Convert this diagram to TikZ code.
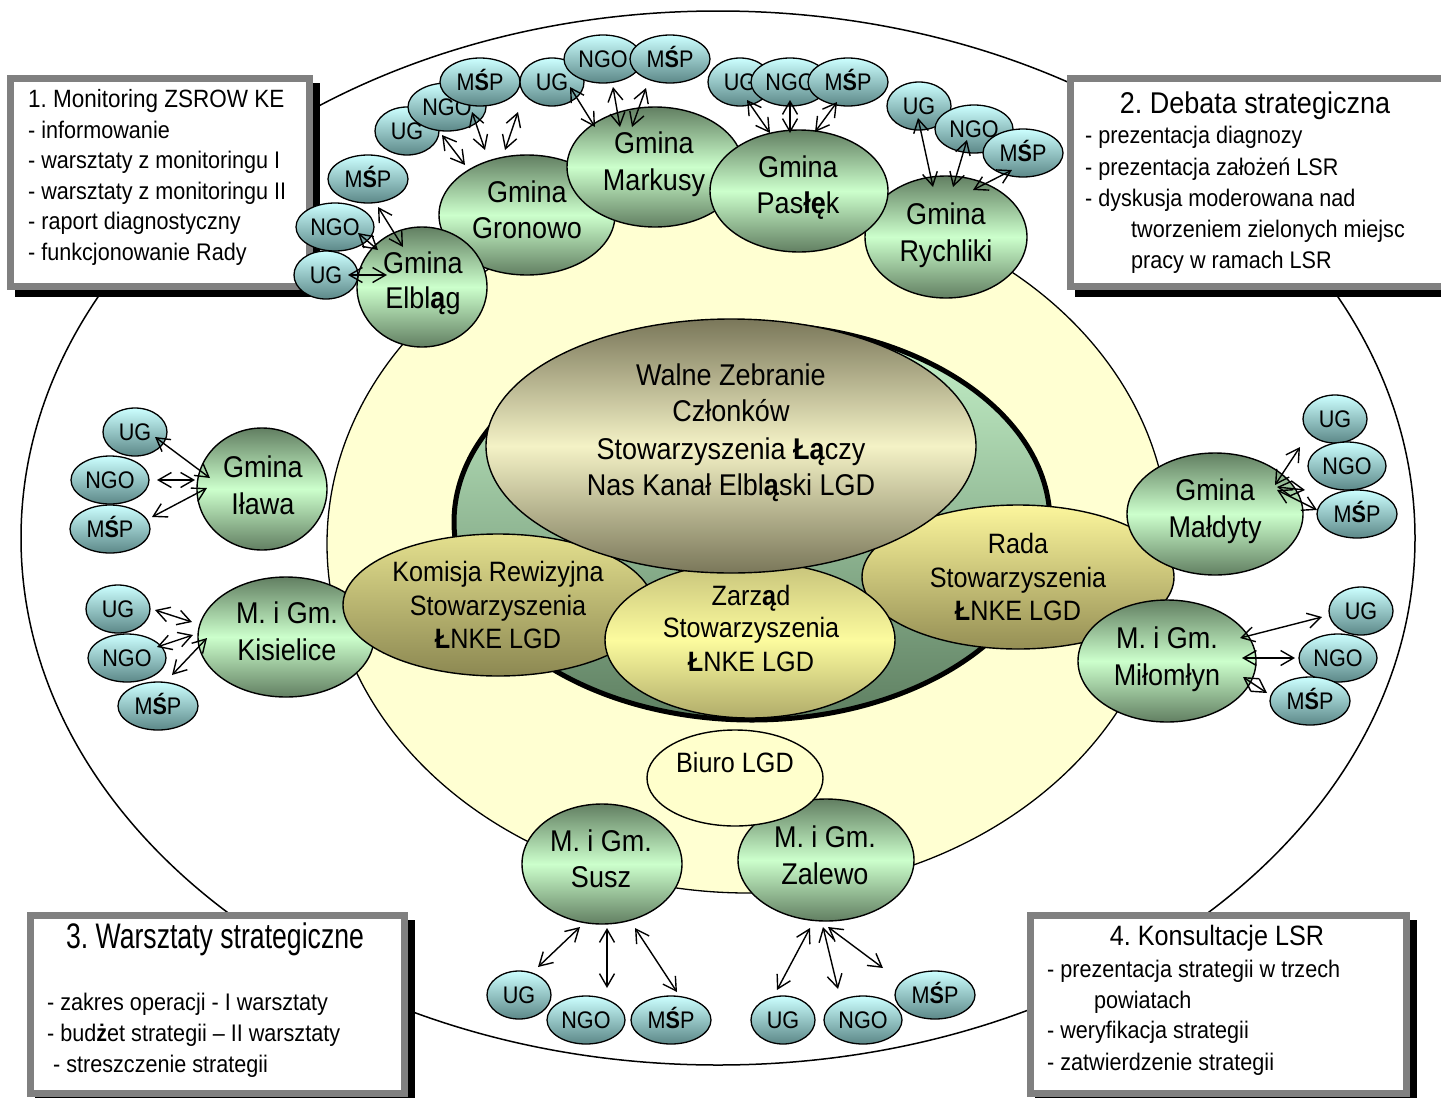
\documentclass[tikz,border=0pt]{standalone}
\usepackage{fontspec}
\setmainfont{Liberation Sans}[FakeStretch=0.9]
\newfontfamily\narrowtitle{Liberation Sans}[FakeStretch=0.75]
\usetikzlibrary{shapes.geometric,arrows.meta}
\frenchspacing
\definecolor{gdark}{HTML}{627F62}
\definecolor{glight}{HTML}{CCFFCC}
\definecolor{clight}{HTML}{CCFFFF}
\definecolor{cdark}{HTML}{5C8888}
\definecolor{wdark}{HTML}{7A775A}
\definecolor{wlight}{HTML}{F4F2C6}
\definecolor{ktop}{HTML}{E4E08E}
\definecolor{kbot}{HTML}{8C8852}
\definecolor{ztop}{HTML}{C6C27A}
\definecolor{zmid}{HTML}{FCFB9E}
\definecolor{zbot}{HTML}{B0AC6A}
\definecolor{rtop}{HTML}{FCF69C}
\definecolor{rbot}{HTML}{958F55}
\definecolor{ringlight}{HTML}{C8F5CC}
\definecolor{ringdark}{HTML}{5E7F61}
\definecolor{yel}{HTML}{FFFFD2}
\definecolor{biuro}{HTML}{FFFFCC}
\definecolor{frame}{HTML}{808080}
\newcommand\mylink[4]{\draw[dbl] ([shift={(#2)}]#1.center) -- ([shift={(#4)}]#3.center);}
\begin{document}
\begin{tikzpicture}[x=1pt,y=-1pt,
  gm/.style={ellipse, draw=black, line width=1.4pt, inner sep=0pt, top color=gdark, bottom color=gdark, middle color=glight},
  sm/.style={ellipse, draw=black, line width=1.3pt, inner sep=0pt, minimum height=48pt, top color=clight, bottom color=cdark, font=\fontsize{24pt}{24pt}\selectfont, text height=17pt, text depth=0pt},
  ug/.style={sm, minimum width=64pt},
  ngo/.style={sm, minimum width=78pt},
  msp/.style={sm, minimum width=80pt},
  gt/.style={anchor=base, inner sep=0pt, font=\fontsize{30pt}{36pt}\selectfont},
  ct/.style={anchor=base, inner sep=0pt, font=\fontsize{28pt}{33pt}\selectfont},
  bt/.style={anchor=base west, inner sep=0pt, font=\fontsize{24pt}{30pt}\selectfont},
  dbl/.style={{Straight Barb[length=13pt,width=15pt]}-{Straight Barb[length=13pt,width=15pt]}, line width=1.4pt},
  boxframe/.style={draw=frame, line width=7pt, fill=white},
  boxshadow/.style={fill=black},
]
\useasboundingbox (0,0) rectangle (1441,1098);
\clip (0,0) rectangle (1441,1098);
\fill[white] (0,0) rectangle (1441,1098);

% outer and inner ellipses
\node[ellipse, draw=black, line width=1.5pt, inner sep=0pt, minimum width=1394pt, minimum height=1054pt] (outer) at (718,538) {};
\node[ellipse, draw=black, line width=1.3pt, fill=yel, inner sep=0pt, minimum width=842pt, minimum height=698pt] (inner) at (748,544) {};

% boxes
\fill[boxshadow] (15,83) rectangle (320,297);
\draw[boxframe] (10.5,78.5) rectangle (309.5,286.5);
\fill[boxshadow] (1075,83) rectangle (1470,297);
\draw[boxframe] (1070.5,78.5) rectangle (1460,286.5);
\fill[boxshadow] (35,920) rectangle (415,1110);
\draw[boxframe] (30.5,915.5) rectangle (404.5,1093.5);
\fill[boxshadow] (1035,920) rectangle (1417,1110);
\draw[boxframe] (1030.5,915.5) rectangle (1406.5,1093.5);

\node[bt, font=\fontsize{25pt}{30pt}\selectfont] (b1a) at (28,107.5) {1. Monitoring ZSROW KE};
\node[bt] (b1b) at (28,138) {- informowanie};
\node[bt] (b1c) at (28,168.5) {- warsztaty z monitoringu I};
\node[bt] (b1d) at (28,199) {- warsztaty z monitoringu II};
\node[bt] (b1e) at (28,229.5) {- raport diagnostyczny};
\node[bt] (b1f) at (28,260) {- funkcjonowanie Rady};

\node[gt] (b2a) at (1255,113) {2. Debata strategiczna};
\node[bt] (b2b) at (1085,143.5) {- prezentacja diagnozy};
\node[bt] (b2c) at (1085,175) {- prezentacja założeń LSR};
\node[bt] (b2d) at (1085,206) {- dyskusja moderowana nad};
\node[bt] (b2e) at (1131,237) {tworzeniem zielonych miejsc};
\node[bt] (b2f) at (1131,268) {pracy w ramach LSR};

\node[anchor=base, inner sep=0pt, font=\narrowtitle\fontsize{35.5pt}{40pt}\selectfont] (b3a) at (215,948) {3. Warsztaty strategiczne};
\node[bt] (b3b) at (47,1010) {- zakres operacji - I warsztaty};
\node[bt] (b3c) at (47,1041.5) {- bud\textbf{ż}et strategii – II warsztaty};
\node[bt] (b3d) at (53,1072) {- streszczenie strategii};

\node[ct] (b4a) at (1217,945) {4. Konsultacje LSR};
\node[bt] (b4b) at (1047,977) {- prezentacja strategii w trzech};
\node[bt] (b4c) at (1094,1008) {powiatach};
\node[bt] (b4d) at (1047,1038.5) {- weryfikacja strategii};
\node[bt] (b4e) at (1047,1070) {- zatwierdzenie strategii};

% Kisielice (behind Komisja)
\node[gm, minimum width=176pt, minimum height=120pt] (kis) at (286,637) {};

% central group
\node[ellipse, draw=black, line width=5pt, inner sep=0pt, minimum width=596pt, minimum height=396pt, top color=ringlight, bottom color=ringdark] (ring) at (752,522) {};
\node[ellipse, draw=black, line width=1.4pt, inner sep=0pt, minimum width=310pt, minimum height=142pt, top color=ktop, bottom color=kbot] (kom) at (498,605) {};
\node[ellipse, draw=black, line width=1.4pt, inner sep=0pt, minimum width=312pt, minimum height=144pt, top color=rtop, bottom color=rbot] (rada) at (1018,577) {};
\node[ellipse, draw=black, line width=1.4pt, inner sep=0pt, minimum width=290pt, minimum height=156pt, top color=ztop, bottom color=zbot, middle color=zmid] (zar) at (750,640) {};
\node[ellipse, draw=black, line width=1.4pt, inner sep=0pt, minimum width=490pt, minimum height=254pt, top color=wdark, bottom color=wdark, middle color=wlight] (walne) at (731,446) {};

\node[gt] (wt1) at (731,385) {Walne Zebranie};
\node[gt] (wt2) at (731,421.7) {Członków};
\node[gt] (wt3) at (731,459.3) {Stowarzyszenia \textbf{Łą}czy};
\node[gt] (wt4) at (731,495) {Nas Kanał Elbl\textbf{ą}ski LGD};

\node[ct] (kt1) at (498,581.7) {Komisja Rewizyjna};
\node[ct] (kt2) at (498,615) {Stowarzyszenia};
\node[ct] (kt3) at (498,648) {\textbf{Ł}NKE LGD};

\node[ct] (zt1) at (751,605) {Zarz\textbf{ą}d};
\node[ct] (zt2) at (751,637) {Stowarzyszenia};
\node[ct] (zt3) at (751,671.5) {\textbf{Ł}NKE LGD};

\node[ct] (rt1) at (1018,553) {Rada};
\node[ct] (rt2) at (1018,587) {Stowarzyszenia};
\node[ct] (rt3) at (1018,620) {\textbf{Ł}NKE LGD};

% gmina ellipses
\node[gm, minimum width=176pt, minimum height=120pt] (gro) at (527,215) {};
\node[gm, minimum width=176pt, minimum height=120pt] (mar) at (655,167) {};
\node[gm, minimum width=162pt, minimum height=122pt] (ryc) at (946,237) {};
\node[gm, minimum width=178pt, minimum height=122pt] (pas) at (799,191) {};
\node[gm, minimum width=130pt, minimum height=120pt] (elb) at (422,287) {};
\node[gm, minimum width=130pt, minimum height=122pt] (ila) at (262,489) {};
\node[gm, minimum width=176pt, minimum height=122pt] (mal) at (1215,514) {};
\node[gm, minimum width=178pt, minimum height=122pt] (mil) at (1167,661) {};
\node[gm, minimum width=160pt, minimum height=120pt] (sus) at (602,864) {};
\node[gm, minimum width=176pt, minimum height=122pt] (zal) at (826,860) {};
\node[ellipse, draw=black, line width=1.4pt, inner sep=0pt, minimum width=176pt, minimum height=96pt, fill=biuro] (biu) at (735,778) {};
\node[ct] (biut) at (735,772) {Biuro LGD};

\node[gt] (elb1) at (423,273) {Gmina};
\node[gt] (elb2) at (423,308) {Elbl\textbf{ą}g};
\node[gt] (gro1) at (527,202) {Gmina};
\node[gt] (gro2) at (527,238) {Gronowo};
\node[gt] (mar1) at (654,153) {Gmina};
\node[gt] (mar2) at (654,190) {Markusy};
\node[gt] (pas1) at (798,177) {Gmina};
\node[gt] (pas2) at (798,213) {Pas\textbf{łę}k};
\node[gt] (ryc1) at (946,224) {Gmina};
\node[gt] (ryc2) at (946,261) {Rychliki};
\node[gt] (ila1) at (263,477) {Gmina};
\node[gt] (ila2) at (263,514) {Iława};
\node[gt] (kis1) at (287,623) {M. i Gm.};
\node[gt] (kis2) at (287,660) {Kisielice};
\node[gt] (mal1) at (1215,500) {Gmina};
\node[gt] (mal2) at (1215,537) {Małdyty};
\node[gt] (mil1) at (1167,648) {M. i Gm.};
\node[gt] (mil2) at (1167,685) {Miłomłyn};
\node[gt] (sus1) at (601,851) {M. i Gm.};
\node[gt] (sus2) at (601,887) {Susz};
\node[gt] (zal1) at (825,847) {M. i Gm.};
\node[gt] (zal2) at (825,884) {Zalewo};

% small nodes
\node[msp] (emsp) at (368,179) {M\textbf{Ś}P};
\node[ngo] (engo) at (335,227) {NGO};
\node[ug]  (eug)  at (326,275) {UG};
\node[ug]  (gug)  at (407,131) {UG};
\node[ngo] (gngo) at (447,107) {NGO};
\node[msp] (gmsp) at (480,82) {M\textbf{Ś}P};
\node[ug]  (mug)  at (552,82) {UG};
\node[ngo] (mngo) at (603,59) {NGO};
\node[msp] (mmsp) at (670,59) {M\textbf{Ś}P};
\node[ug]  (pug)  at (740,82) {UG};
\node[ngo] (pngo) at (790,82) {NGO};
\node[msp] (pmsp) at (848,82) {M\textbf{Ś}P};
\node[ug]  (rug)  at (919,106) {UG};
\node[ngo] (rngo) at (974,129) {NGO};
\node[msp] (rmsp) at (1023,153) {M\textbf{Ś}P};
\node[ug]  (iug)  at (135,432) {UG};
\node[ngo] (ingo) at (110,480) {NGO};
\node[msp] (imsp) at (110,529) {M\textbf{Ś}P};
\node[ug]  (kug)  at (118,609) {UG};
\node[ngo] (kngo) at (127,658) {NGO};
\node[msp] (kmsp) at (158,706) {M\textbf{Ś}P};
\node[ug]  (aug)  at (1335,419) {UG};
\node[ngo] (ango) at (1347,466) {NGO};
\node[msp] (amsp) at (1357,514) {M\textbf{Ś}P};
\node[ug]  (lug)  at (1361,611) {UG};
\node[ngo] (lngo) at (1338,658) {NGO};
\node[msp] (lmsp) at (1310,701) {M\textbf{Ś}P};
\node[ug]  (sug)  at (519,995) {UG};
\node[ngo] (sngo) at (586,1020) {NGO};
\node[msp] (smsp) at (671,1020) {M\textbf{Ś}P};
\node[ug]  (zug)  at (783,1020) {UG};
\node[ngo] (zngo) at (863,1020) {NGO};
\node[msp] (zmsp) at (935,995) {M\textbf{Ś}P};

% connectors
\mylink{eug}{22,0}{elb}{-35,-12}
\mylink{engo}{23,6}{elb}{-44,-37}
\mylink{emsp}{10,28}{elb}{-19,-40}
\mylink{gug}{35,4}{gro}{-62,-50}
\mylink{gngo}{25,5}{gro}{-42,-65}
\mylink{gmsp}{38,30}{gro}{-22,-65}
\mylink{mug}{18,5}{mar}{-60,-40}
\mylink{mngo}{10,28}{mar}{-35,-40}
\mylink{mmsp}{-24,29}{mar}{-23,-40}
\mylink{pug}{7,18}{pas}{-29,-58}
\mylink{pngo}{0,18}{pas}{-9,-58}
\mylink{pmsp}{-11,20}{pas}{16,-59}
\mylink{rug}{-1,12}{ryc}{-13,-50}
\mylink{rngo}{-7,11}{ryc}{7,-50}
\mylink{rmsp}{-11,17}{ryc}{27,-47}
\mylink{iug}{20,5}{ila}{-52,-11}
\mylink{ingo}{47,0}{ila}{-67,-9}
\mylink{imsp}{42,-12}{ila}{-55,-1}
\mylink{kug}{37,1}{kis}{-94,-15}
\mylink{kngo}{30,-11}{kis}{-93,-2}
\mylink{kmsp}{14,-31}{kis}{-79,1}
\mylink{aug}{-35,28}{mal}{60,-29}
\mylink{ango}{-42,24}{mal}{62,-27}
\mylink{amsp}{-40,-4}{mal}{62,-24}
\mylink{lug}{-39,6}{mil}{73,-23}
\mylink{lngo}{-43,0}{mil}{75,-3}
\mylink{lmsp}{-43,-8}{mil}{76,16}
\mylink{sug}{19,-28}{sus}{-22,63}
\mylink{sngo}{21,-32}{sus}{5,64}
\mylink{smsp}{6,-28}{sus}{33,64}
\mylink{zug}{-6,-30}{zal}{-16,68}
\mylink{zngo}{-25,-31}{zal}{-3,67}
\mylink{zmsp}{-52,-27}{zal}{2,67}
\end{tikzpicture}
\end{document}
